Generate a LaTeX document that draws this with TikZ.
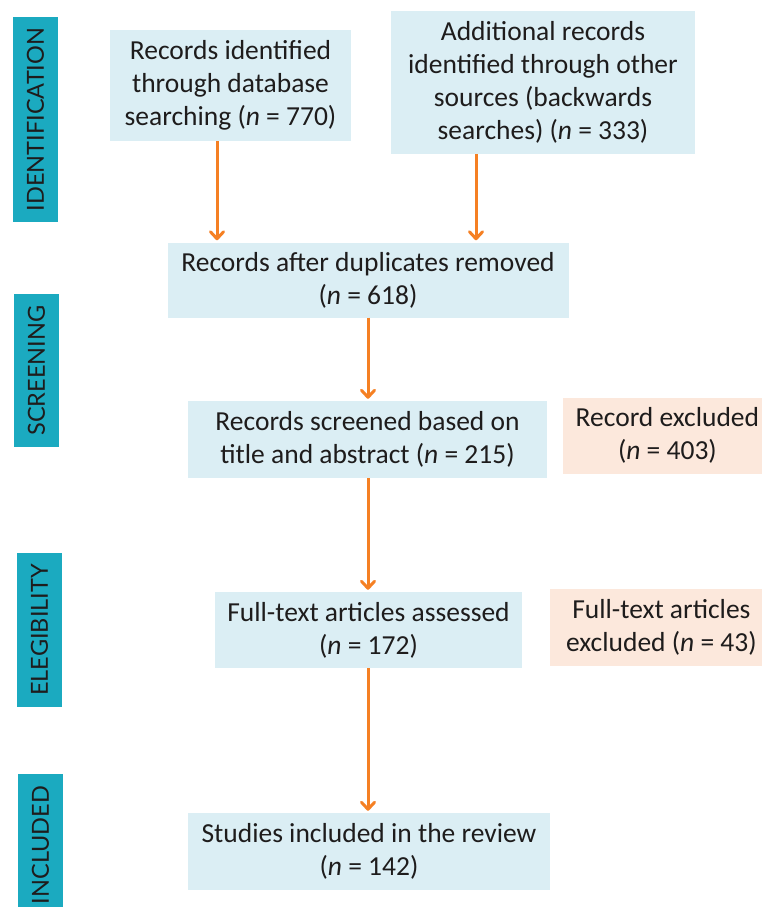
\documentclass[tikz,border=0pt]{standalone}
\usepackage{fontspec}
\setmainfont{Carlito}
\newfontfamily\tabfont{Lato}
\usetikzlibrary{arrows.meta, positioning}

\definecolor{tabteal}{RGB}{27,170,192}
\definecolor{boxblue}{RGB}{219,238,244}
\definecolor{boxpeach}{RGB}{252,232,220}
\definecolor{arroworange}{RGB}{245,128,35}
\definecolor{inkgray}{RGB}{30,28,28}

\begin{document}
\begin{tikzpicture}[
    x=1pt, y=-1pt,
    font=\fontsize{27.5}{33}\selectfont,
    text=inkgray,
    >={Straight Barb[round, length=7pt, width=13pt]},
    phase/.style={rectangle, fill=tabteal, rotate=90, inner sep=0pt,
                  minimum width=#1, minimum height=45pt,
                  font=\tabfont\fontsize{23.5}{28}\selectfont},
    block/.style={rectangle, fill=#1, align=center, inner sep=0pt},
    arrow/.style={->, draw=arroworange, line width=3pt, shorten >=2pt},
]
    \useasboundingbox (0,0) rectangle (761,907);

    % Phase tabs
    \node[phase=205pt] (tabid)   at (35.5,119.5) {IDENTIFICATION};
    \node[phase=153pt] (tabscr)  at (36.5,370.5) {SCREENING};
    \node[phase=154pt] (tabelig) at (39.5,630)   {ELEGIBILITY};
    \node[phase=142pt] (tabincl) at (40.5,845)   {INCLUDED};

    % Identification
    \node[block=boxblue, minimum width=241pt, minimum height=111pt] (dbrec)
          at (230.5,85.5)
          {Records identified\\through database\\searching (\textit{n} = 770)};
    \node[block=boxblue, minimum width=304pt, minimum height=143pt] (otherrec)
          at (543,82.5)
          {Additional records\\identified through other\\sources (backwards\\searches) (\textit{n} = 333)};

    % Screening
    \node[block=boxblue, minimum width=401pt, minimum height=75pt] (dedup)
          at (368,280)
          {Records after duplicates removed\\(\textit{n} = 618)};
    \node[block=boxblue, minimum width=359pt, minimum height=77pt] (screened)
          at (367.5,439.5)
          {Records screened based on\\title and abstract (\textit{n} = 215)};
    \node[block=boxpeach, minimum width=208pt, minimum height=76pt,
          right=16pt of screened, yshift=4pt] (exclrec)
          {Record excluded\\(\textit{n} = 403)};

    % Eligibility
    \node[block=boxblue, minimum width=307pt, minimum height=76pt] (fulltext)
          at (368.5,630)
          {Full-text articles assessed\\(\textit{n} = 172)};
    \node[block=boxpeach, minimum width=222pt, minimum height=77pt,
          right=28pt of fulltext, yshift=3pt] (exclfull)
          {Full-text articles\\excluded (\textit{n} = 43)};

    % Included
    \node[block=boxblue, minimum width=362pt, minimum height=77pt] (included)
          at (369,851.5)
          {Studies included in the review\\(\textit{n} = 142)};

    % Connectors
    \coordinate (dbx) at (217,0);
    \coordinate (otherx) at (476,0);
    \coordinate (mainx) at (368,0);

    \draw[arrow] (dbx |- dbrec.south) -- (dbx |- dedup.north);
    \draw[arrow] (otherx |- otherrec.south) -- (otherx |- dedup.north);
    \draw[arrow] (mainx |- dedup.south) -- (mainx |- screened.north);
    \draw[arrow] (mainx |- screened.south) -- (mainx |- fulltext.north);
    \draw[arrow] (mainx |- fulltext.south) -- (mainx |- included.north);

\end{tikzpicture}
\end{document}
